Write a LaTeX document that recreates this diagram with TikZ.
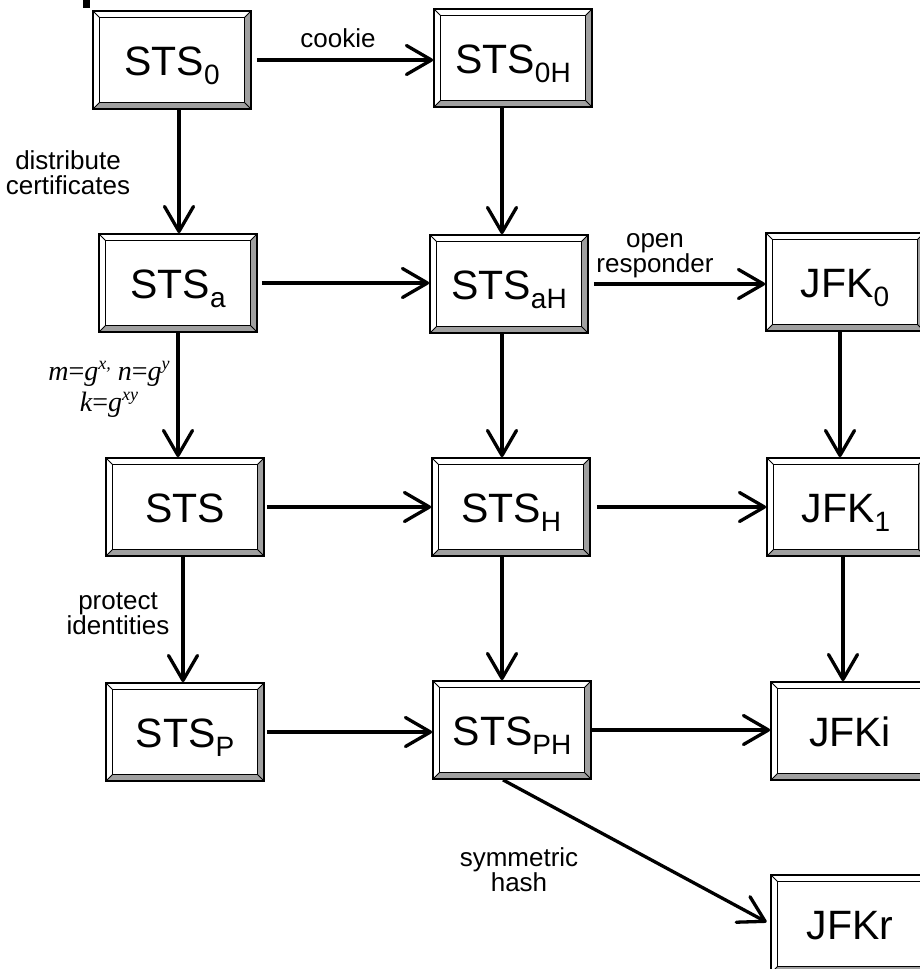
\documentclass[tikz,border=0pt]{standalone}
\usepackage{fontspec}
\setmainfont{Liberation Sans}
\newfontfamily\tms{Liberation Serif}
\usetikzlibrary{arrows.meta}
\definecolor{bevelgray}{RGB}{160,160,160}
\newcommand\sbs[1]{\raisebox{-9.5pt}{\fontsize{28}{28}\selectfont #1}}
\newcommand\sps[1]{\raisebox{11pt}{\fontsize{18}{18}\selectfont #1}}
\tikzset{
  bevelbox/.style={rectangle, draw=black, line width=1.8pt, fill=white,
    minimum width=158pt, minimum height=98pt, inner sep=0pt,
    font=\fontsize{41}{41}\selectfont, text height=30pt, text depth=0pt,
    path picture={
      \fill[bevelgray] (path picture bounding box.south west)
        -- (path picture bounding box.south east)
        -- (path picture bounding box.north east)
        -- ([xshift=-6.5pt,yshift=-6.5pt]path picture bounding box.north east)
        -- ([xshift=-6.5pt,yshift=6.5pt]path picture bounding box.south east)
        -- ([xshift=6.5pt,yshift=6.5pt]path picture bounding box.south west) -- cycle;
      \draw[line width=1.4pt] ([xshift=6.5pt,yshift=6.5pt]path picture bounding box.south west)
        rectangle ([xshift=-6.5pt,yshift=-6.5pt]path picture bounding box.north east);
      \draw[line width=1pt]
        (path picture bounding box.south west) -- ([xshift=6.5pt,yshift=6.5pt]path picture bounding box.south west)
        (path picture bounding box.south east) -- ([xshift=-6.5pt,yshift=6.5pt]path picture bounding box.south east)
        (path picture bounding box.north west) -- ([xshift=6.5pt,yshift=-6.5pt]path picture bounding box.north west)
        (path picture bounding box.north east) -- ([xshift=-6.5pt,yshift=-6.5pt]path picture bounding box.north east);
    }},
  conn/.style={line width=3.3pt, -{Straight Barb[length=25pt,width=29pt,round]}},
  lbl/.style={font=\fontsize{26}{25}\selectfont, align=center, inner sep=0pt},
  mathlbl/.style={font=\tms\itshape\fontsize{28}{31}\selectfont, align=center, inner sep=0pt}
}
\begin{document}
\begin{tikzpicture}[x=1pt,y=-1pt]
\clip (0,0) rectangle (920,969);
\fill[white] (0,0) rectangle (920,969);
\fill[black] (83,0) rectangle (90,8);

% nodes
\node[bevelbox] (sts0)  at (172,60)  {STS\sbs{0}};
\node[bevelbox] (sts0h) at (513,58)  {STS\sbs{0H}};
\node[bevelbox] (stsa)  at (178,283) {STS\sbs{a}};
\node[bevelbox] (stsah) at (509,284) {STS\sbs{aH}};
\node[bevelbox] (jfk0)  at (845,282) {JFK\sbs{0}};
\node[bevelbox] (sts)   at (185,507) {STS};
\node[bevelbox] (stsh)  at (511,507) {STS\sbs{H}};
\node[bevelbox] (jfk1)  at (846,507) {JFK\sbs{1}};
\node[bevelbox] (stsp)  at (185,732) {STS\sbs{P}};
\node[bevelbox] (stsph) at (512,730) {STS\sbs{PH}};
\node[bevelbox] (jfki)  at (850,731) {JFKi};
\node[bevelbox] (jfkr)  at (850,924) {JFKr};

% horizontal connectors
\draw[conn, shorten <=5pt] (sts0.east) -- (sts0.east -| sts0h.west);
\draw[conn, shorten <=4pt] (stsa.east) -- (stsa.east -| stsah.west);
\draw[conn, shorten <=5pt] (stsah.east) -- (stsah.east -| jfk0.west);
\draw[conn, shorten <=2pt] (sts.east) -- (sts.east -| stsh.west);
\draw[conn, shorten <=6pt] (stsh.east) -- (stsh.east -| jfk1.west);
\draw[conn, shorten <=2pt] (stsp.east) -- (stsp.east -| stsph.west);
\draw[conn, shorten <=0pt] (stsph.east) -- (stsph.east -| jfki.west);

% vertical connectors
\draw[conn] ([xshift=7pt]sts0.south) -- ([xshift=7pt]sts0.south |- stsa.north);
\draw[conn] (stsa.south) -- (stsa.south |- sts.north);
\draw[conn] ([xshift=-2pt]sts.south) -- ([xshift=-2pt]sts.south |- stsp.north);
\draw[conn] ([xshift=-11pt]sts0h.south) -- ([xshift=-11pt]sts0h.south |- stsah.north);
\draw[conn] ([xshift=-7pt]stsah.south) -- ([xshift=-7pt]stsah.south |- stsh.north);
\draw[conn] ([xshift=-9pt]stsh.south) -- ([xshift=-9pt]stsh.south |- stsph.north);
\draw[conn] ([xshift=-5pt]jfk0.south) -- ([xshift=-5pt]jfk0.south |- jfk1.north);
\draw[conn] ([xshift=-3pt]jfk1.south) -- ([xshift=-3pt]jfk1.south |- jfki.north);

% diagonal
\draw[conn, shorten >=4pt] ([xshift=-9pt]stsph.south) -- (jfkr.west);

% labels
\node[lbl] (lcookie) at (338,38) {cookie};
\node[lbl] (ldist) at (68,173) {distribute\\certificates};
\node[lbl] (lopen) at (655,256) {open\\responder};
\node[mathlbl] (lmath) at (109,389) {m{\upshape=}g\sps{x,} n{\upshape=}g\sps{y}\\k{\upshape=}g\sps{xy}};
\node[lbl] (lprot) at (118,614) {protect\\identities};
\node[lbl] (lsym) at (519,870) {symmetric\\hash};
\end{tikzpicture}
\end{document}
